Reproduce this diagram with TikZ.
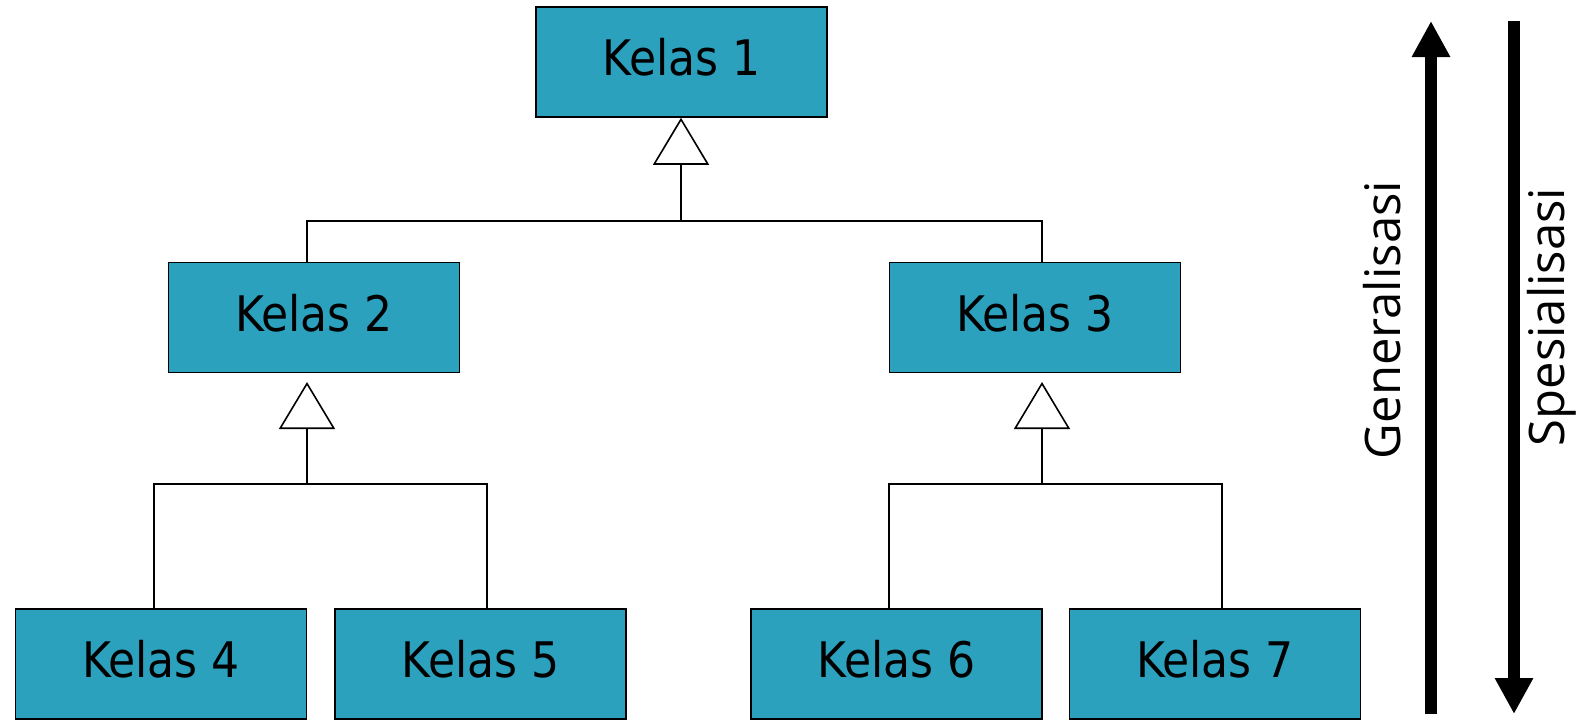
\documentclass[tikz,border=0pt]{standalone}
\usepackage{fontspec}
\setmainfont{DejaVu Sans Condensed}
\newfontfamily\sidefont{Open Sans}
\usetikzlibrary{arrows.meta}
\definecolor{classfill}{RGB}{44,161,190}
\tikzset{
  classbox/.style={draw=black, line width=1.6pt, fill=classfill, minimum width=291pt,
    minimum height=110pt, inner sep=0pt, text height=27pt, text depth=0pt,
    font=\fontsize{49}{58}\selectfont},
  link/.style={draw=black, line width=1.6pt},
  inherit/.style={link, -{Triangle[open, length=47pt, width=56pt]}},
  bigarrow/.style={line width=12pt, -{Triangle[length=36pt, width=36pt]}},
  sidelabel/.style={rotate=90, font=\sidefont\fontsize{49}{58}\selectfont, inner sep=0pt}
}
\begin{document}
\begin{tikzpicture}[x=1pt, y=-1pt]
  \useasboundingbox (0,0) rectangle (1585,721);

  % class boxes
  \node[classbox] (k1) at (681.5,62)   {Kelas 1};
  \node[classbox] (k2) at (314,317.5)  {Kelas 2};
  \node[classbox] (k3) at (1035,317.5) {Kelas 3};
  \node[classbox] (k4) at (161,664)    {Kelas 4};
  \node[classbox] (k5) at (480.5,664)  {Kelas 5};
  \node[classbox] (k6) at (896.5,664)  {Kelas 6};
  \node[classbox] (k7) at (1215,664)   {Kelas 7};

  % junction bars and arrow apex points
  \coordinate (b1l) at (307,221);
  \coordinate (b1r) at (1042,221);
  \coordinate (j1)  at (681,221);
  \coordinate (b2l) at (154,484);
  \coordinate (b2r) at (487,484);
  \coordinate (j2)  at (307,484);
  \coordinate (a2)  at (307,382);
  \coordinate (b3l) at (889,484);
  \coordinate (b3r) at (1222,484);
  \coordinate (j3)  at (1042,484);
  \coordinate (a3)  at (1042,382);

  % level 1 -> 2
  \draw[link] (b1l |- k2.north) -- (b1l) -- (b1r) -- (b1r |- k3.north);
  \draw[inherit] (j1) -- (j1 |- k1.south);

  % level 2 -> 3 (left)
  \draw[link] (b2l |- k4.north) -- (b2l) -- (b2r) -- (b2r |- k5.north);
  \draw[inherit] (j2) -- (a2);

  % level 2 -> 3 (right)
  \draw[link] (b3l |- k6.north) -- (b3l) -- (b3r) -- (b3r |- k7.north);
  \draw[inherit] (j3) -- (a3);

  % direction arrows
  \coordinate (gbot) at (1431,714);
  \coordinate (gtop) at (1431,21);
  \coordinate (stop) at (1514,21);
  \coordinate (sbot) at (1514,714);
  \draw[bigarrow] (gbot) -- (gtop);
  \draw[bigarrow] (stop) -- (sbot);

  \node[sidelabel] (gen) at (1382,320) {Generalisasi};
  \node[sidelabel] (spe) at (1552,317) {Spesialisasi};
\end{tikzpicture}
\end{document}
